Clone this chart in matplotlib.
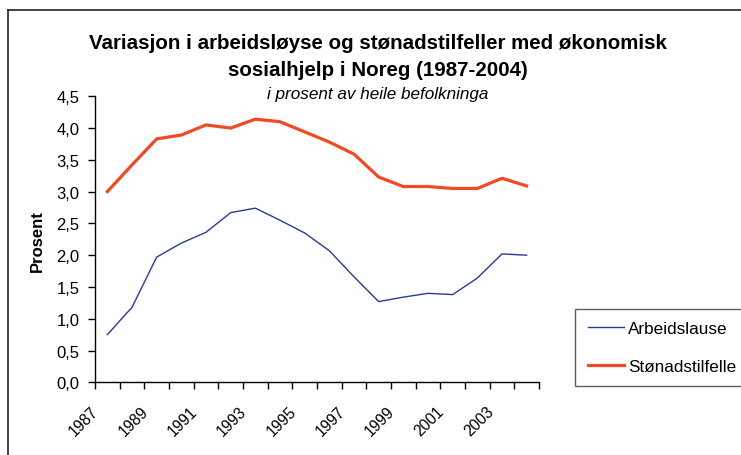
import matplotlib
matplotlib.use("Agg")
import matplotlib.pyplot as plt
from matplotlib.lines import Line2D
from matplotlib.transforms import ScaledTranslation
import numpy as np

plt.rcParams['font.family'] = ['Liberation Sans', 'DejaVu Sans']

# Data: share of the whole population (%), 1987-2004
years = list(range(1987, 2005))
arbeidslause = [0.75, 1.18, 1.97, 2.19, 2.36, 2.67, 2.74, 2.55, 2.35, 2.07,
                1.66, 1.27, 1.34, 1.40, 1.38, 1.64, 2.02, 2.00]
stonadstilfelle = [3.00, 3.42, 3.83, 3.89, 4.05, 4.00, 4.14, 4.10, 3.94, 3.78,
                   3.59, 3.23, 3.08, 3.08, 3.05, 3.05, 3.21, 3.09]
series_labels = ["Arbeidslause", "Stønadstilfelle"]
y_ticks = [0.0, 0.5, 1.0, 1.5, 2.0, 2.5, 3.0, 3.5, 4.0, 4.5]

W, H = 741, 456
fig = plt.figure(figsize=(W / 100, H / 100), dpi=100)
fig.patch.set_facecolor("white")

def fx(px):
    return px / W

def fy(py):
    return 1 - py / H

ax = fig.add_axes([fx(95), fy(383.3), fx(539) - fx(95), fy(97.3) - fy(383.3)])

x = np.arange(len(years))
ax.plot(x, arbeidslause, color="#2a3b8f", lw=1.0, label=series_labels[0],
        solid_joinstyle="round")
ax.plot(x, stonadstilfelle, color="#f04a22", lw=2.3, label=series_labels[1],
        solid_joinstyle="round")

ax.set_xlim(-0.5, len(years) - 0.5)
ax.set_ylim(0, 4.5)

# category axis: tick marks between categories, labels on every other year
ax.set_xticks(np.arange(-0.5, len(years)), minor=False)
ax.set_xticklabels([])
ax.set_xticks(x[::2], minor=True)
ax.set_xticklabels([str(y) for y in years[::2]], minor=True, rotation=45,
                   ha="right", va="center", rotation_mode="anchor")
ax.tick_params(axis="x", which="major", direction="out", length=5, width=1)
ax.tick_params(axis="x", which="minor", length=0, pad=19, labelsize=11.2)
shift = ScaledTranslation(-11 / 100, 0, fig.dpi_scale_trans)
for lab in ax.get_xticklabels(minor=True):
    lab.set_transform(lab.get_transform() + shift)

ax.set_yticks(y_ticks)
ax.set_yticklabels([f"{v:.1f}".replace(".", ",") for v in y_ticks])
ax.tick_params(axis="y", direction="out", length=5, width=1, pad=6, labelsize=12)

for s in ("top", "right"):
    ax.spines[s].set_visible(False)
for s in ("left", "bottom"):
    ax.spines[s].set_linewidth(1)
    ax.spines[s].set_color("black")

fig.text(fx(37), fy(241), "Prosent", rotation=90, ha="center", va="center",
         fontsize=12, fontweight="bold")

# titles
cx = fx(378)
fig.text(cx, fy(49), "Variasjon i arbeidsløyse og stønadstilfeller med økonomisk",
         ha="center", va="baseline", fontsize=14.8, fontweight="bold")
fig.text(cx, fy(76), "sosialhjelp i Noreg (1987-2004)",
         ha="center", va="baseline", fontsize=14.8, fontweight="bold")
fig.text(cx, fy(98.5), "i prosent av heile befolkninga",
         ha="center", va="baseline", fontsize=12.3, fontstyle="italic")

# outer chart frame (runs off the right and bottom edges)
fig.add_artist(Line2D([fx(7.5), fx(7.5)], [fy(460), fy(11)], color="#222222", lw=1.2,
                      transform=fig.transFigure))
fig.add_artist(Line2D([fx(7.5), fx(745)], [fy(11), fy(11)], color="#222222", lw=1.2,
                      transform=fig.transFigure))

leg = fig.legend(loc="upper left", bbox_to_anchor=(fx(575), fy(309.5)),
                 bbox_transform=fig.transFigure, frameon=True, fancybox=False,
                 fontsize=12.3, borderpad=0.75, handlelength=2.1, handletextpad=0.25,
                 labelspacing=1.3, borderaxespad=0)
leg.get_frame().set_edgecolor("#333333")
leg.get_frame().set_linewidth(1.0)

fig.savefig("out.png", dpi=100, facecolor="white")
